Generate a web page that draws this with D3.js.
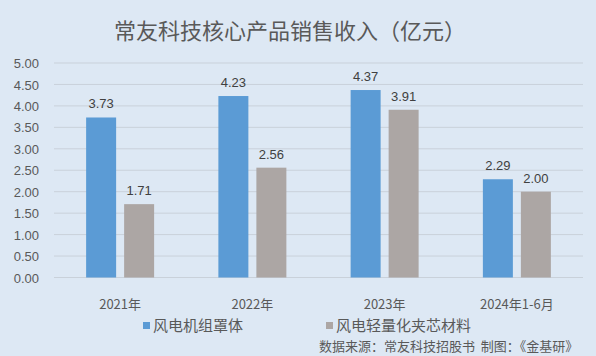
<!DOCTYPE html>
<html><head><meta charset="utf-8">
<script src="https://cdn.jsdelivr.net/npm/d3@7/dist/d3.min.js"></script>
<style>body{margin:0;background:#dde8f4;}svg{display:block;}</style>
</head><body><svg id="c" width="596" height="356"></svg>
<script>
const categories = ["2021年","2022年","2023年","2024年1-6月"];
const seriesNames = ["风电机组罩体","风电轻量化夹芯材料"];
const housing = [3.73, 4.23, 4.37, 2.29];
const core = [1.71, 2.56, 3.91, 2.00];
const yTicks = [0,0.5,1,1.5,2,2.5,3,3.5,4,4.5,5];
const colors = ["#5b9bd5","#aca6a4"];
const font = "'Noto Sans CJK SC','Microsoft YaHei',sans-serif";

const svg = d3.select("#c");
svg.append("rect").attr("width",596).attr("height",356).attr("fill","#dde8f4");
svg.append("text").attr("x",114).attr("y",39).attr("text-anchor","start")
  .attr("font-family",font).attr("font-size",22).attr("fill","#595959")
  .text("常友科技核心产品销售收入（亿元）");

const x = d3.scaleBand().domain(categories).range([54,583]);
const y = d3.scaleLinear().domain([0,5]).range([277.5,63]);

const g = svg.append("g");
g.selectAll("line.grid").data(yTicks).join("line")
  .attr("x1",54).attr("x2",583).attr("y1",d=>y(d)).attr("y2",d=>y(d))
  .attr("stroke","#c9d1da").attr("stroke-width",1);

const yAxis = svg.append("g").attr("transform","translate(42,0)")
  .call(d3.axisLeft(y).tickValues(yTicks).tickFormat(d3.format(".2f")).tickSize(0).tickPadding(0));
yAxis.select(".domain").remove();
yAxis.selectAll("text").attr("font-family","'Liberation Sans',Arial,sans-serif").attr("font-size",13).attr("fill","#595959").attr("text-anchor","end").attr("x",-3).attr("dy","0.35em");

const xAxis = svg.append("g").attr("transform","translate(0,277.5)")
  .call(d3.axisBottom(x).tickSize(0).tickPadding(0));
xAxis.select(".domain").remove();
xAxis.selectAll("text").attr("font-family",font).attr("font-size",13).attr("fill","#595959").attr("y",22);

const bw = 30, gap = 8;
const series = [housing, core];
series.forEach((vals,si)=>{
  const off = si===0 ? -(bw+gap/2) : gap/2;
  svg.append("g").selectAll("rect").data(vals).join("rect")
    .attr("x",(d,i)=>x(categories[i])+x.bandwidth()/2+off)
    .attr("width",bw)
    .attr("y",d=>y(d)).attr("height",d=>y(0)-y(d))
    .attr("fill",colors[si]);
  svg.append("g").selectAll("text").data(vals).join("text")
    .attr("x",(d,i)=>x(categories[i])+x.bandwidth()/2+off+bw/2)
    .attr("y",d=>y(d)-9)
    .attr("text-anchor","middle")
    .attr("font-family","'Liberation Sans',Arial,sans-serif").attr("font-size",13).attr("fill","#404040")
    .text(d=>d.toFixed(2));
});

const legX = [143, 326];
seriesNames.forEach((n,i)=>{
  svg.append("rect").attr("x",legX[i]).attr("y",322).attr("width",7).attr("height",7).attr("fill",colors[i]);
  svg.append("text").attr("x",legX[i]+10).attr("y",331).attr("font-family",font).attr("font-size",15).attr("fill","#595959").text(n);
});

svg.append("text").attr("x",319).attr("y",351).attr("font-family",font).attr("font-size",13).attr("fill","#595959")
  .attr("xml:space","preserve").style("white-space","pre")
  .text("数据来源：常友科技招股书  制图：《金基研》");
</script></body></html>
